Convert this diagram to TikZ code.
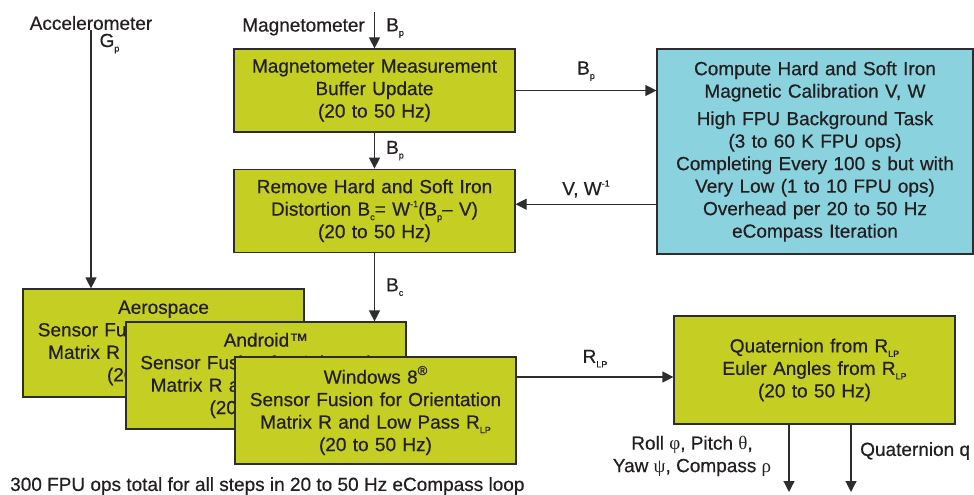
\documentclass[tikz,border=0pt]{standalone}
\usepackage{fontspec}
\setmainfont{Liberation Sans}[FakeBold=0.5]
\newfontfamily\greekfont{Liberation Serif}
\usetikzlibrary{arrows.meta, positioning}

\definecolor{fusiongreen}{RGB}{196,206,35}
\definecolor{calibblue}{RGB}{138,210,222}
\definecolor{edgegray}{RGB}{45,45,45}
\definecolor{inkblack}{RGB}{35,31,32}

\newcommand{\sbs}[1]{\raisebox{-0.45ex}{\fontsize{9}{9}\selectfont #1}}
\newcommand{\sps}[1]{\raisebox{0.85ex}{\fontsize{9}{9}\selectfont #1}}

\begin{document}
\begin{tikzpicture}[
				x=1pt, y=-1pt,
				font=\fontsize{19}{22.5}\selectfont,
				text=inkblack,
				block/.style={
					rectangle,
					draw=edgegray,
					fill=fusiongreen,
					text width=275pt,
					align=center,
					minimum width=281pt,
					minimum height=83pt,
					inner sep=0pt,
					line width=1.2pt
				},
				lbl/.style={
					inner sep=0pt
				},
				arrow/.style={
					-{Triangle[length=11pt, width=11pt]},
					draw=edgegray,
					line width=1.2pt
				}
				]
				
				\useasboundingbox (0,0) rectangle (974,495);
				
				% Block 1: Magnetometer buffer
				\node[block] (magbuf) at (374.5,90.5) {Magnetometer Measurement\\Buffer Update\\(20 to 50 Hz)};
				
				% Block 2: Hard and soft iron removal
				\node[block, below=36pt of magbuf] (remove) {Remove Hard and Soft Iron\\Distortion B\sbs{c}= W\sps{-1}(B\sbs{p}-- V)\\(20 to 50 Hz)};
				
				% Block 3: Calibration task
				\node[block, fill=calibblue, text width=305pt, minimum width=316pt, minimum height=205pt] (calib) at (815,151.5) {Compute Hard and Soft Iron\\Magnetic Calibration V, W\\[5pt]High FPU Background Task\\(3 to 60 K FPU ops)\\Completing Every 100 s but with\\Very Low (1 to 10 FPU ops)\\Overhead per 20 to 50 Hz\\eCompass Iteration};
				
				% Block 4: Sensor fusion stack
				\node[block, minimum height=108pt] (aero) at (163.5,343) {Aerospace\\Sensor Fusion for Orientation\\Matrix R and Low Pass R\sbs{LP}\\(20 to 50 Hz)};
				\node[block, minimum width=280pt, minimum height=107pt] (android) at (266,375.5) {Android\texttrademark\\Sensor Fusion for Orientation\\Matrix R and Low Pass R\sbs{LP}\\(20 to 50 Hz)};
				\node[block, minimum height=107pt] (windows) at (375.5,410.5) {Windows 8\sps{\fontsize{13}{13}\selectfont\textregistered}\\Sensor Fusion for Orientation\\Matrix R and Low Pass R\sbs{LP}\\(20 to 50 Hz)};
				
				% Block 5: Outputs
				\node[block, minimum height=108pt] (quat) at (814.5,370) {Quaternion from R\sbs{LP}\\Euler Angles from R\sbs{LP}\\(20 to 50 Hz)};
				
				% Inputs
				\node[lbl] (accel) at (91,23) {Accelerometer};
				\coordinate (magin) at (374.5,12);
				\node[lbl, anchor=east] (magname) at (365,27) {Magnetometer};
				\node[lbl, anchor=west] (bpin) at (386,28) {B\sbs{p}};
				
				\draw[arrow] (accel.south) -- node[lbl, pos=0, anchor=north west, xshift=8pt, yshift=-3pt] (gp) {G\sbs{p}} (accel.south |- aero.north);
				\draw[arrow] (magin) -- (magbuf.north);
				
				% Magnetic path
				\draw[arrow] (magbuf.east) -- node[lbl, above=9pt] (bpcal) {B\sbs{p}} (magbuf.east -| calib.west);
				\draw[arrow] ([yshift=6.5pt]remove.east -| calib.west) -- node[lbl, above=6pt] (vw) {V, W\sps{-1}} ([yshift=6.5pt]remove.east);
				\draw[arrow] (magbuf.south) -- node[lbl, right=11pt] (bpmid) {B\sbs{p}} (remove.north);
				\draw[arrow] (remove.south) -- node[lbl, right=11pt] (bc) {B\sbs{c}} (remove.south |- android.north);
				
				% Fusion to quaternion
				\draw[arrow] ([yshift=33.5pt]windows.east) -- node[lbl, above=9pt] (rlp) {R\sbs{LP}} ([yshift=33.5pt]windows.east -| quat.west);
				
				\coordinate (eulerout) at ([xshift=-25.5pt]quat.south |- 0,492);
				\coordinate (quatout) at ([xshift=36.5pt]quat.south |- 0,492);
				\draw[arrow] ([xshift=-25.5pt]quat.south) -- (eulerout);
				\draw[arrow] ([xshift=36.5pt]quat.south) -- (quatout);
				\node[lbl, align=center] (angles) at (692,456) {Roll {\greekfont φ}, Pitch {\greekfont θ},\\Yaw {\greekfont ψ}, Compass {\greekfont ρ}};
				\node[lbl, anchor=west] (qlabel) at (860,451) {Quaternion q};
				
				% Footnote
				\node[lbl, anchor=west] (footnote) at (10,486) {300 FPU ops total for all steps in 20 to 50 Hz eCompass loop};
				
			\end{tikzpicture}
\end{document}
